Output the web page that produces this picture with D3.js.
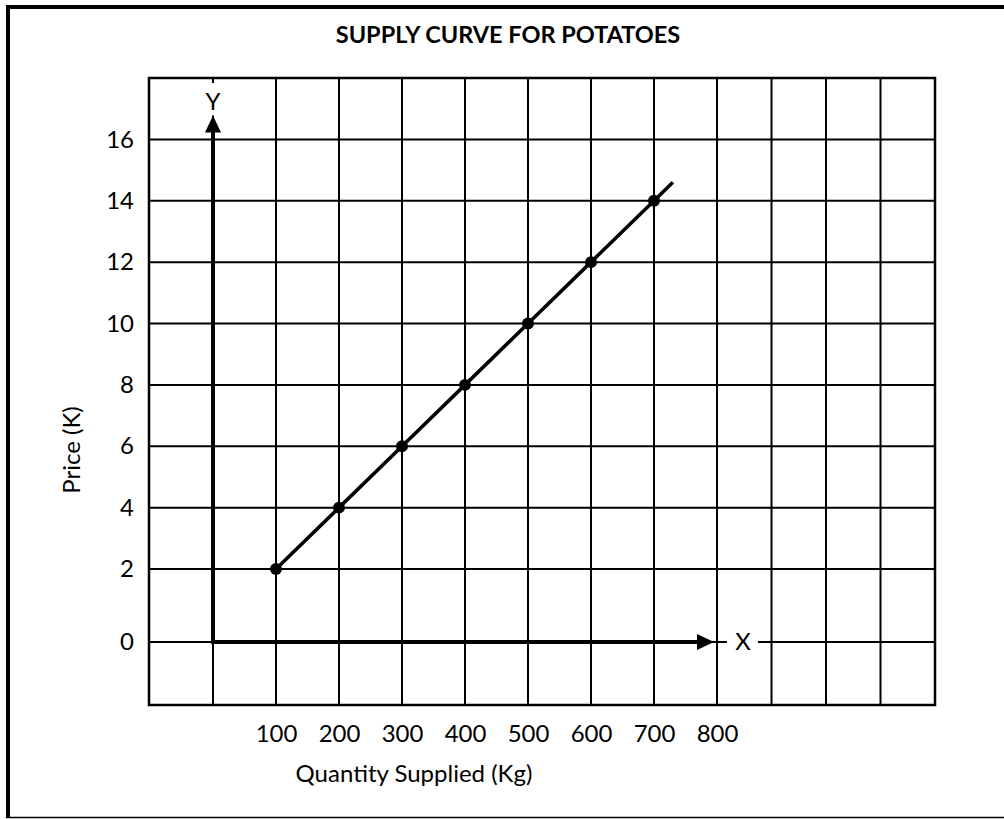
<!DOCTYPE html>
<html>
<head>
<meta charset="utf-8">
<script src="https://cdn.jsdelivr.net/npm/d3@7"></script>
<style>
  body { margin: 0; background: #fff; }
  svg text { font-family: Lato, "Open Sans", sans-serif; fill: #000; }
</style>
</head>
<body>
<div id="chart"></div>
<script>
// data
const quantities = [100, 200, 300, 400, 500, 600, 700];
const prices = [2, 4, 6, 8, 10, 12, 14];
const xTickLabels = [100, 200, 300, 400, 500, 600, 700, 800];
const yTickLabels = [0, 2, 4, 6, 8, 10, 12, 14, 16];
const xGridValues = [-100, 0, 100, 200, 300, 400, 500, 600, 700, 800, 900, 1000, 1100, 1200];
const yGridValues = [-2, 0, 2, 4, 6, 8, 10, 12, 14, 16, 18];

const w = 1004, h = 819;
const fontSize = "24px";

// hand drawn table -> uneven cells, so piecewise scales
const x = d3.scaleLinear()
  .domain([-100, 0, 800, 1200])
  .range([149, 213, 717, 935]);

const y = d3.scaleLinear()
  .domain([-2, 0, 2, 18])
  .range([705, 642, 569, 78]);

const svg = d3.select("#chart")
  .append("svg")
  .attr("width", w)
  .attr("height", h);

// page frame
svg.append("line").attr("x1", 8).attr("x2", 8).attr("y1", 5).attr("y2", 818)
  .attr("stroke", "#000").attr("stroke-width", 4);
svg.append("line").attr("x1", 6).attr("x2", w).attr("y1", 7).attr("y2", 7)
  .attr("stroke", "#000").attr("stroke-width", 4);
svg.append("line").attr("x1", 6).attr("x2", w).attr("y1", 817.5).attr("y2", 817.5)
  .attr("stroke", "#000").attr("stroke-width", 1.5);

// title
svg.append("text")
  .attr("id", "title")
  .attr("x", 508)
  .attr("y", 43)
  .attr("text-anchor", "middle")
  .style("font-size", "23.5px")
  .style("font-weight", "bold")
  .text("SUPPLY CURVE FOR POTATOES");

// Grid
const xMin = d3.min(xGridValues), xMax = d3.max(xGridValues);
const yMin = d3.min(yGridValues), yMax = d3.max(yGridValues);

svg.append("g")
  .selectAll("line")
  .data(xGridValues)
  .enter()
  .append("line")
  .attr("x1", d => x(d)).attr("x2", d => x(d))
  .attr("y1", y(yMax)).attr("y2", y(yMin))
  .attr("stroke", "#000")
  .attr("stroke-width", 2);

svg.append("g")
  .selectAll("line")
  .data(yGridValues)
  .enter()
  .append("line")
  .attr("x1", x(xMin)).attr("x2", x(xMax))
  .attr("y1", d => y(d)).attr("y2", d => y(d))
  .attr("stroke", "#000")
  .attr("stroke-width", 2);

svg.append("rect")
  .attr("x", x(xMin)).attr("y", y(yMax))
  .attr("width", x(xMax) - x(xMin))
  .attr("height", y(yMin) - y(yMax))
  .attr("fill", "none")
  .attr("stroke", "#000")
  .attr("stroke-width", 2.5);

// tick labels
const xAxis = d3.axisBottom(x).tickValues(xTickLabels).tickSize(0).tickPadding(20);
const yAxis = d3.axisLeft(y).tickValues(yTickLabels).tickSize(0).tickPadding(15);

const gx = svg.append("g")
  .attr("id", "x-axis")
  .attr("transform", `translate(0, ${y(yMin)})`)
  .call(xAxis);
gx.select(".domain").remove();
gx.selectAll("text").attr("fill", "#000").style("font-size", fontSize).style("font-family", "Lato, 'Open Sans', sans-serif");

const gy = svg.append("g")
  .attr("id", "y-axis")
  .attr("transform", `translate(${x(xMin)}, 0)`)
  .call(yAxis);
gy.select(".domain").remove();
gy.selectAll("text").attr("fill", "#000").style("font-size", fontSize).style("font-family", "Lato, 'Open Sans', sans-serif");

// axis titles
svg.append("text")
  .attr("x", 414)
  .attr("y", 782)
  .attr("text-anchor", "middle")
  .style("font-size", fontSize)
  .text("Quantity Supplied (Kg)");

svg.append("text")
  .attr("transform", "translate(72, 450) rotate(-90)")
  .attr("text-anchor", "middle")
  .attr("dy", "0.35em")
  .style("font-size", fontSize)
  .text("Price (K)");

// Thick X / Y axes with arrows
const ox = x(0), oy = y(0);
const yTip = y(16) - 24;
const xTip = x(800) - 3;

svg.append("line")
  .attr("x1", ox).attr("x2", ox)
  .attr("y1", oy + 2).attr("y2", yTip + 15)
  .attr("stroke", "#000").attr("stroke-width", 4);
svg.append("path")
  .attr("d", `M${ox},${yTip} L${ox - 8},${yTip + 17} L${ox + 8},${yTip + 17} Z`)
  .attr("fill", "#000");

svg.append("line")
  .attr("x1", ox - 2).attr("x2", xTip - 15)
  .attr("y1", oy).attr("y2", oy)
  .attr("stroke", "#000").attr("stroke-width", 4);
svg.append("path")
  .attr("d", `M${xTip},${oy} L${xTip - 17},${oy - 8} L${xTip - 17},${oy + 8} Z`)
  .attr("fill", "#000");

// axis letters on white patches
svg.append("rect")
  .attr("x", ox - 9).attr("y", y(yMax) + 5)
  .attr("width", 18).attr("height", yTip - y(yMax) - 5)
  .attr("fill", "#fff");
svg.append("text")
  .attr("x", ox)
  .attr("y", yTip - 5)
  .attr("text-anchor", "middle")
  .style("font-size", fontSize)
  .text("Y");

svg.append("rect")
  .attr("x", xTip + 13).attr("y", oy - 10)
  .attr("width", 31).attr("height", 20)
  .attr("fill", "#fff");
svg.append("text")
  .attr("x", xTip + 29)
  .attr("y", oy)
  .attr("dy", "0.35em")
  .attr("text-anchor", "middle")
  .style("font-size", fontSize)
  .text("X");

// supply line, running a bit past the last point
const points = quantities.map((q, i) => [q, prices[i]]);
const n = points.length;
const last = points[n - 1], prev = points[n - 2];
const lineEnd = [last[0] + 0.3 * (last[0] - prev[0]), last[1] + 0.3 * (last[1] - prev[1])];

const line = d3.line()
  .x(d => x(d[0]))
  .y(d => y(d[1]));

svg.append("path")
  .datum(points.concat([lineEnd]))
  .attr("d", line)
  .attr("fill", "none")
  .attr("stroke", "#000")
  .attr("stroke-width", 3.5);

svg.append("g")
  .selectAll("circle")
  .data(points)
  .enter()
  .append("circle")
  .attr("cx", d => x(d[0]))
  .attr("cy", d => y(d[1]))
  .attr("r", 6)
  .attr("fill", "#000");
</script>
</body>
</html>
